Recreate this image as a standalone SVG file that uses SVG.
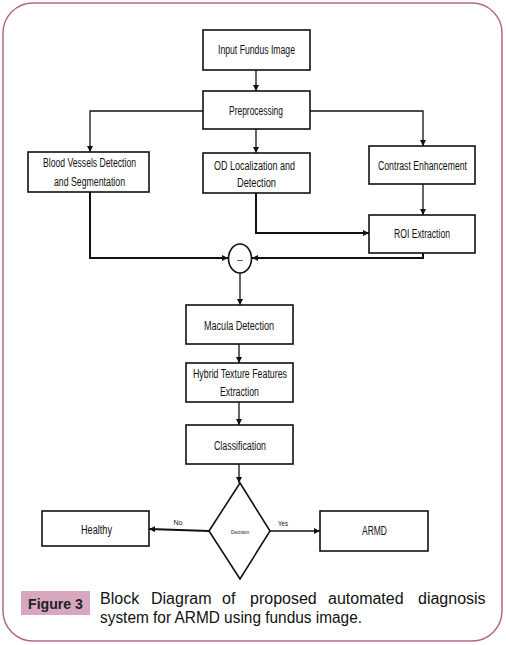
<svg xmlns="http://www.w3.org/2000/svg" width="506" height="645" viewBox="0 0 506 645">
<defs>
<style>
.box{fill:#fff;stroke:#111;stroke-width:1.6}
.t{font-family:"Liberation Sans",Arial,sans-serif;font-size:12px;fill:#111;text-anchor:middle}
.c{fill:none;stroke:#111;stroke-width:1.3}
.ct{fill:none;stroke:#111;stroke-width:2}
.cap{font-family:"Liberation Sans",Arial,sans-serif;font-size:16px;fill:#111}
</style>
<marker id="ah" viewBox="0 0 10 10" refX="10" refY="5" markerWidth="6" markerHeight="6" orient="auto" markerUnits="userSpaceOnUse">
<path d="M0,0 L10,5 L0,10 Z" fill="#111"/>
</marker>
</defs>
<rect x="0" y="0" width="506" height="645" fill="#fff"/>
<rect x="3" y="3" width="499" height="638" rx="30" ry="30" fill="#fff" stroke="#b3668e" stroke-width="1.5"/>

<g id="connectors">
<path class="c" d="M256,70 V91" marker-end="url(#ah)"/>
<path class="c" d="M203,111 H90 V152" marker-end="url(#ah)"/>
<path class="c" d="M310,111 H423 V146" marker-end="url(#ah)"/>
<path class="c" d="M256,129 V153" marker-end="url(#ah)"/>
<path class="c" d="M423,184 V215" marker-end="url(#ah)"/>
<path class="ct" d="M256,193 V233 H369" marker-end="url(#ah)"/>
<path class="ct" d="M90,192 V258 H228" marker-end="url(#ah)"/>
<path class="ct" d="M423,253 V258 H252" marker-end="url(#ah)"/>
<path class="c" d="M240,273 V305" marker-end="url(#ah)"/>
<path class="c" d="M239,344 V363" marker-end="url(#ah)"/>
<path class="c" d="M239,402 V425" marker-end="url(#ah)"/>
<path class="c" d="M239,464 V483" marker-end="url(#ah)"/>
<path class="ct" d="M209,531 L149,529" marker-end="url(#ah)"/>
<path class="c" d="M270,531 H320" marker-end="url(#ah)"/>
<text x="178" y="525" style="font-family:'Liberation Sans',sans-serif;font-size:7px;fill:#111" text-anchor="middle" textLength="9" lengthAdjust="spacingAndGlyphs">No</text>
<text x="283" y="526" style="font-family:'Liberation Sans',sans-serif;font-size:7px;fill:#111" text-anchor="middle" textLength="10" lengthAdjust="spacingAndGlyphs">Yes</text>
</g>

<g id="input">
<rect class="box" x="203" y="30" width="107" height="40"/>
<text class="t" x="256.5" y="54" textLength="77" lengthAdjust="spacingAndGlyphs">Input Fundus Image</text>
</g>
<g id="preprocessing">
<rect class="box" x="203" y="91" width="107" height="38"/>
<text class="t" x="256" y="115" textLength="54" lengthAdjust="spacingAndGlyphs">Preprocessing</text>
</g>
<g id="bloodvessels">
<rect class="box" x="28" y="152" width="121" height="40"/>
<text class="t" x="89.5" y="167" textLength="93" lengthAdjust="spacingAndGlyphs">Blood Vessels Detection</text>
<text class="t" x="89.5" y="186" textLength="71" lengthAdjust="spacingAndGlyphs">and Segmentation</text>
</g>
<g id="od">
<rect class="box" x="203" y="153" width="107" height="40"/>
<text class="t" x="254.5" y="170" textLength="81" lengthAdjust="spacingAndGlyphs">OD Localization and</text>
<text class="t" x="256.5" y="187" textLength="39" lengthAdjust="spacingAndGlyphs">Detection</text>
</g>
<g id="contrast">
<rect class="box" x="369" y="146" width="106" height="38"/>
<text class="t" x="422.5" y="170" textLength="89" lengthAdjust="spacingAndGlyphs">Contrast Enhancement</text>
</g>
<g id="roi">
<rect class="box" x="369" y="215" width="106" height="38"/>
<text class="t" x="422" y="238" textLength="56" lengthAdjust="spacingAndGlyphs">ROI Extraction</text>
</g>
<g id="junction">
<ellipse cx="240" cy="258.5" rx="11.5" ry="14.5" fill="#fff" stroke="#111" stroke-width="1.6"/>
<text x="240" y="262" style="font-family:'Liberation Sans',sans-serif;font-size:8px;font-weight:bold;fill:#111" text-anchor="middle">--</text>
</g>
<g id="macula">
<rect class="box" x="186" y="305" width="107" height="39"/>
<text class="t" x="239" y="330" textLength="70" lengthAdjust="spacingAndGlyphs">Macula Detection</text>
</g>
<g id="hybrid">
<rect class="box" x="186" y="363" width="107" height="39"/>
<text class="t" x="240" y="378" textLength="94" lengthAdjust="spacingAndGlyphs">Hybrid Texture Features</text>
<text class="t" x="239.5" y="396" textLength="39" lengthAdjust="spacingAndGlyphs">Extraction</text>
</g>
<g id="classification">
<rect class="box" x="186" y="425" width="107" height="39"/>
<text class="t" x="240" y="450" textLength="52" lengthAdjust="spacingAndGlyphs">Classification</text>
</g>
<g id="decision">
<path d="M240,483 L270,531 L240,579 L209,531 Z" fill="#fff" stroke="#111" stroke-width="1.6"/>
<text x="240" y="534" style="font-family:'Liberation Sans',sans-serif;font-size:5px;fill:#111" text-anchor="middle" textLength="18" lengthAdjust="spacingAndGlyphs">Decision</text>
</g>
<g id="healthy">
<rect class="box" x="42" y="511" width="107" height="35"/>
<text class="t" x="96.5" y="534" textLength="31" lengthAdjust="spacingAndGlyphs">Healthy</text>
</g>
<g id="armd">
<rect class="box" x="320" y="511" width="108" height="40"/>
<text class="t" x="374.5" y="535" textLength="25" lengthAdjust="spacingAndGlyphs">ARMD</text>
</g>

<g id="caption">
<rect x="21" y="591" width="69" height="24" fill="#d6a7bf"/>
<text x="28" y="609" style="font-family:'Liberation Sans',Arial,sans-serif;font-size:15px;font-weight:bold;fill:#222" textLength="55" lengthAdjust="spacingAndGlyphs">Figure 3</text>
<text class="cap" y="604"><tspan x="100">Block</tspan><tspan x="151">Diagram</tspan><tspan x="222">of</tspan><tspan x="250">proposed</tspan><tspan x="328">automated</tspan><tspan x="418">diagnosis</tspan></text>
<text class="cap" x="100" y="623" textLength="262" lengthAdjust="spacingAndGlyphs">system for ARMD using fundus image.</text>
</g>
</svg>
